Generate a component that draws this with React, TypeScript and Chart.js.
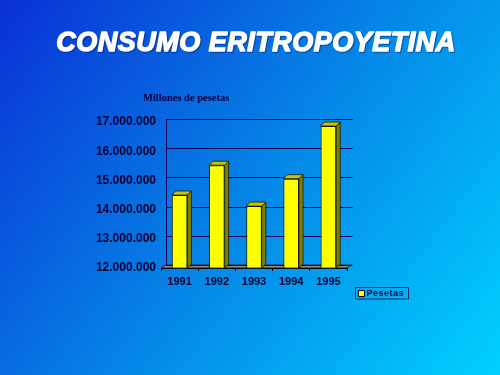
import React, { useEffect, useRef } from 'react';
import { Chart, registerables } from 'chart.js';

Chart.register(...registerables);

const TITLE = 'CONSUMO ERITROPOYETINA';
const UNIT_LABEL = 'Millones de pesetas';
const SERIES_LABEL = 'Pesetas';
const categories = ['1991', '1992', '1993', '1994', '1995'];
const pesetas = [14500000, 15520000, 14120000, 15060000, 16860000];
const Y_MIN = 12000000;
const Y_MAX = 17000000;
const Y_STEP = 1000000;

const fmt = (v: number) => String(Math.round(v)).replace(/\B(?=(\d{3})+(?!\d))/g, '.');

// 3D offsets
const WALL_DX = 4.5;
const WALL_DY = -3;
const BAR_DX = 4;
const BAR_DY = -4;

const backgroundAndWall = {
  id: 'backgroundAndWall',
  beforeDraw(chart: any) {
    const { ctx, chartArea, scales } = chart;
    ctx.save();
    const g = ctx.createLinearGradient(0, 0, chart.width, chart.height);
    g.addColorStop(0, '#0a30d6');
    g.addColorStop(0.5, '#0684e6');
    g.addColorStop(1, '#00d0ff');
    ctx.fillStyle = g;
    ctx.fillRect(0, 0, chart.width, chart.height);

    const { left, right, top, bottom } = chartArea;
    // floor
    ctx.beginPath();
    ctx.moveTo(left, bottom);
    ctx.lineTo(right, bottom);
    ctx.lineTo(right + WALL_DX, bottom + WALL_DY);
    ctx.lineTo(left + WALL_DX, bottom + WALL_DY);
    ctx.closePath();
    ctx.fillStyle = '#8a8a8a';
    ctx.fill();
    ctx.lineWidth = 1;
    ctx.strokeStyle = '#202040';
    ctx.stroke();

    // back wall gridlines
    const y = scales.y;
    ctx.strokeStyle = '#00005a';
    ctx.lineWidth = 1;
    y.ticks.forEach((t: any) => {
      const py = Math.round(y.getPixelForValue(t.value) + WALL_DY) + 0.5;
      ctx.beginPath();
      ctx.moveTo(Math.round(left + WALL_DX), py);
      ctx.lineTo(Math.round(right + WALL_DX) + 0.5, py);
      ctx.stroke();
    });
    // left wall edge
    const wx = Math.round(left + WALL_DX) + 0.5;
    ctx.beginPath();
    ctx.moveTo(wx, Math.round(top + WALL_DY));
    ctx.lineTo(wx, Math.round(bottom + WALL_DY));
    ctx.stroke();
    ctx.restore();
  },
};

const bars3d = {
  id: 'bars3d',
  afterDatasetsDraw(chart: any) {
    const { ctx, chartArea } = chart;
    ctx.save();
    chart.data.datasets.forEach((_: any, i: number) => {
      const meta = chart.getDatasetMeta(i);
      meta.data.forEach((el: any) => {
        const p = el.getProps(['x', 'y', 'base', 'width'], true);
        const x = p.x;
        const y = p.y;
        const width = p.width;
        const base = Math.min(p.base, chartArea.bottom);
        const l = x - width / 2;
        const r = x + width / 2;
        // side face
        ctx.beginPath();
        ctx.moveTo(r, y);
        ctx.lineTo(r + BAR_DX, y + BAR_DY);
        ctx.lineTo(r + BAR_DX, base + BAR_DY);
        ctx.lineTo(r, base);
        ctx.closePath();
        ctx.fillStyle = '#808000';
        ctx.fill();
        ctx.strokeStyle = '#1a1a00';
        ctx.lineWidth = 0.8;
        ctx.stroke();
        // top face
        ctx.beginPath();
        ctx.moveTo(l, y);
        ctx.lineTo(l + BAR_DX, y + BAR_DY);
        ctx.lineTo(r + BAR_DX, y + BAR_DY);
        ctx.lineTo(r, y);
        ctx.closePath();
        ctx.fillStyle = '#c4c400';
        ctx.fill();
        ctx.stroke();
        // bottom edge of front face
        ctx.beginPath();
        ctx.moveTo(l, base);
        ctx.lineTo(r, base);
        ctx.stroke();
      });
    });
    ctx.restore();
  },
};

const texts = {
  id: 'texts',
  afterDraw(chart: any) {
    const { ctx } = chart;
    ctx.save();
    // title
    ctx.font = 'italic bold 27px "Liberation Sans", Arial, sans-serif';
    (ctx as any).letterSpacing = '0.5px';
    ctx.textAlign = 'center';
    ctx.textBaseline = 'alphabetic';
    ctx.shadowColor = 'rgba(0,0,60,0.45)';
    ctx.shadowOffsetX = 1;
    ctx.shadowOffsetY = 1;
    ctx.shadowBlur = 1;
    ctx.fillStyle = '#ffffff';
    ctx.strokeStyle = '#ffffff';
    ctx.lineWidth = 1.4;
    ctx.lineJoin = 'round';
    ctx.strokeText(TITLE, 256, 51);
    ctx.shadowColor = 'transparent';
    ctx.fillText(TITLE, 256, 51);

    // unit label
    (ctx as any).letterSpacing = '0px';
    ctx.font = 'bold 10.5px "Liberation Serif", "Times New Roman", serif';
    ctx.textAlign = 'left';
    ctx.fillStyle = '#000040';
    ctx.fillText(UNIT_LABEL, 143, 101);

    // legend
    const ds = chart.data.datasets[0];
    ctx.strokeStyle = '#0a2a60';
    ctx.lineWidth = 1;
    ctx.strokeRect(355.5, 287.5, 53, 11.5);
    ctx.fillStyle = ds.backgroundColor;
    ctx.fillRect(358.5, 290.5, 6, 6);
    ctx.strokeStyle = '#000000';
    ctx.strokeRect(358.5, 290.5, 6, 6);
    ctx.font = 'bold 9px "Liberation Sans", Arial, sans-serif';
    (ctx as any).letterSpacing = '0.5px';
    ctx.fillStyle = '#000033';
    ctx.textBaseline = 'middle';
    ctx.fillText(ds.label, 366.5, 293.5);
    ctx.restore();
  },
};

export default function App() {
  const ref = useRef<HTMLCanvasElement | null>(null);

  useEffect(() => {
    if (!ref.current) return;
    const chart = new Chart(ref.current, {
      type: 'bar',
      data: {
        labels: categories,
        datasets: [
          {
            label: SERIES_LABEL,
            data: pesetas,
            backgroundColor: '#ffff00',
            borderColor: '#1a1a00',
            borderWidth: 1,
            barPercentage: 0.42,
            categoryPercentage: 1,
          },
        ],
      },
      options: {
        responsive: false,
        maintainAspectRatio: false,
        devicePixelRatio: 1,
        animation: false,
        layout: { padding: { top: 122, right: 153, left: 0, bottom: 0 } },
        plugins: {
          legend: { display: false },
          title: { display: false },
          tooltip: { enabled: false },
        },
        scales: {
          x: {
            grid: {
              display: true,
              drawOnChartArea: false,
              drawTicks: true,
              tickLength: 3,
              offset: true,
              color: '#000000',
            },
            border: { display: true, color: '#000000', width: 1 },
            ticks: {
              color: '#000033',
              padding: 4,
              font: { family: '"Liberation Sans", Arial, sans-serif', size: 11, weight: 'bold' },
            },
            afterFit: (s: any) => {
              s.height = 375 - 268;
            },
          },
          y: {
            min: Y_MIN,
            max: Y_MAX,
            grid: { display: false, drawTicks: false },
            border: { display: false },
            ticks: {
              stepSize: Y_STEP,
              color: '#000033',
              padding: 5,
              font: { family: '"Liberation Sans", Arial, sans-serif', size: 12, weight: 'bold' },
              callback: (v: any) => fmt(Number(v)),
            },
            afterFit: (s: any) => {
              s.width = 161;
            },
          },
        },
      },
      plugins: [backgroundAndWall, bars3d, texts],
    });
    return () => chart.destroy();
  }, []);

  return (
    <div style={{ position: 'fixed', left: 0, top: 0, width: 500, height: 375 }}>
      <canvas ref={ref} width={500} height={375} style={{ display: 'block', width: 500, height: 375 }} />
    </div>
  );
}
